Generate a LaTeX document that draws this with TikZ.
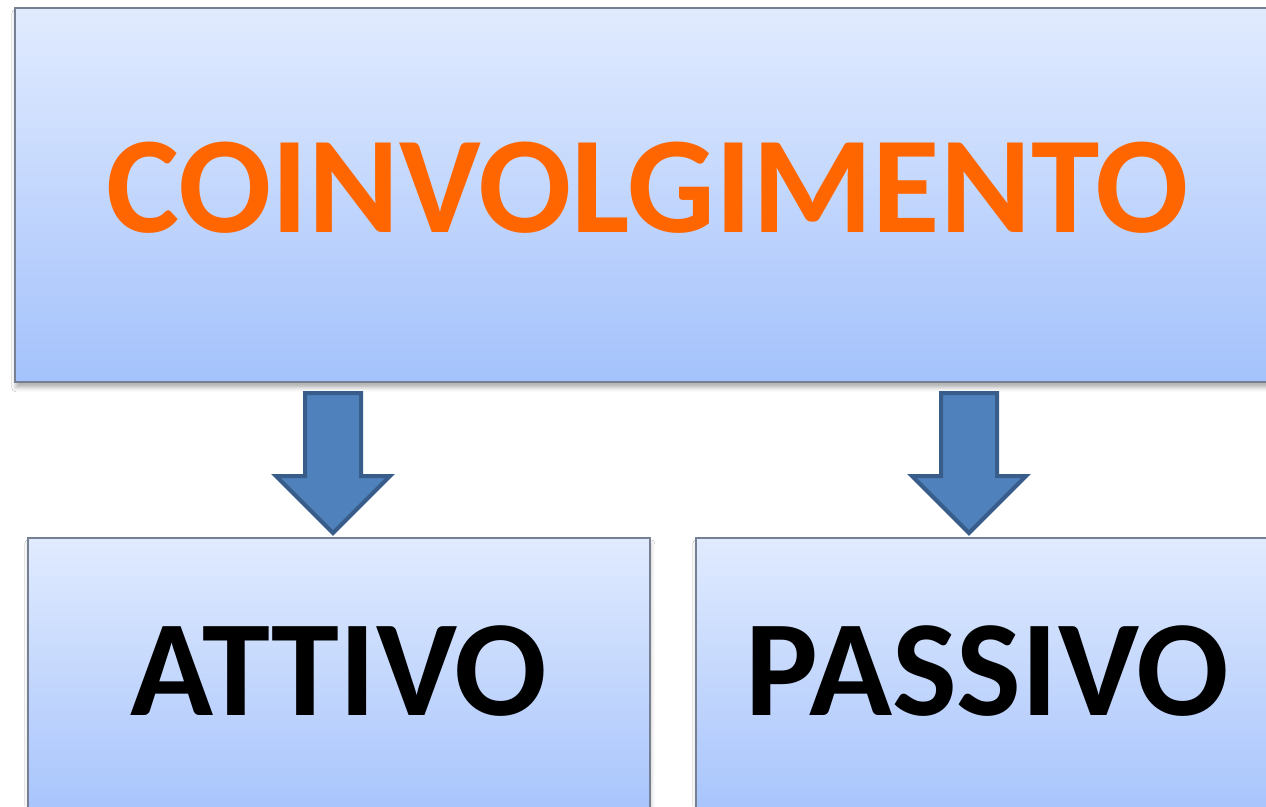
\documentclass[tikz,border=0pt]{standalone}
\usepackage{fontspec}
\setmainfont{Carlito}
\usetikzlibrary{shadows.blur}
\definecolor{boxtop}{RGB}{225,235,254}
\definecolor{boxbot}{RGB}{164,194,252}
\definecolor{boxline}{RGB}{118,128,146}
\definecolor{arrfill}{RGB}{79,129,189}
\definecolor{arrline}{RGB}{56,93,138}
\definecolor{title}{RGB}{255,102,0}
\tikzset{
  box/.style={draw=boxline, line width=1.5pt, top color=boxtop, bottom color=boxbot,
    rectangle, inner sep=0pt,
    blur shadow={shadow xshift=1pt, shadow yshift=-6pt, shadow blur radius=4pt, shadow opacity=30},
    font=\fontsize{137}{137}\selectfont\bfseries},
  blockarrow/.pic={
    \draw[fill=arrfill, draw=arrline, line width=4pt, line join=miter]
      (-28,0) -- (28,0) -- (28,83) -- (57,83) -- (0,140) -- (-57,83) -- (-28,83) -- cycle;
  }
}
\begin{document}
\begin{tikzpicture}[x=1pt,y=-1pt]
\clip (0,0) rectangle (1266,806);
\fill[white] (0,0) rectangle (1266,806);
\node[box, anchor=north west, minimum width=1266pt, minimum height=374pt, text=title,
  font=\fontsize{138}{138}\selectfont\bfseries]
  (top) at (14,7) {\raisebox{7pt}[\height][\depth]{COINVOLGIMENTO}};
\node[box, anchor=north west, minimum width=622pt, minimum height=290pt, text=black]
  (attivo) at (27,537) {\raisebox{12pt}[\height][\depth]{ATTIVO}};
\node[box, anchor=north west, minimum width=583pt, minimum height=290pt, text=black]
  (passivo) at (695,537) {\raisebox{12pt}[\height][\depth]{PASSIVO}};
\pic (a1) at (333,393) {blockarrow};
\pic (a2) at (969,393) {blockarrow};
\end{tikzpicture}
\end{document}
